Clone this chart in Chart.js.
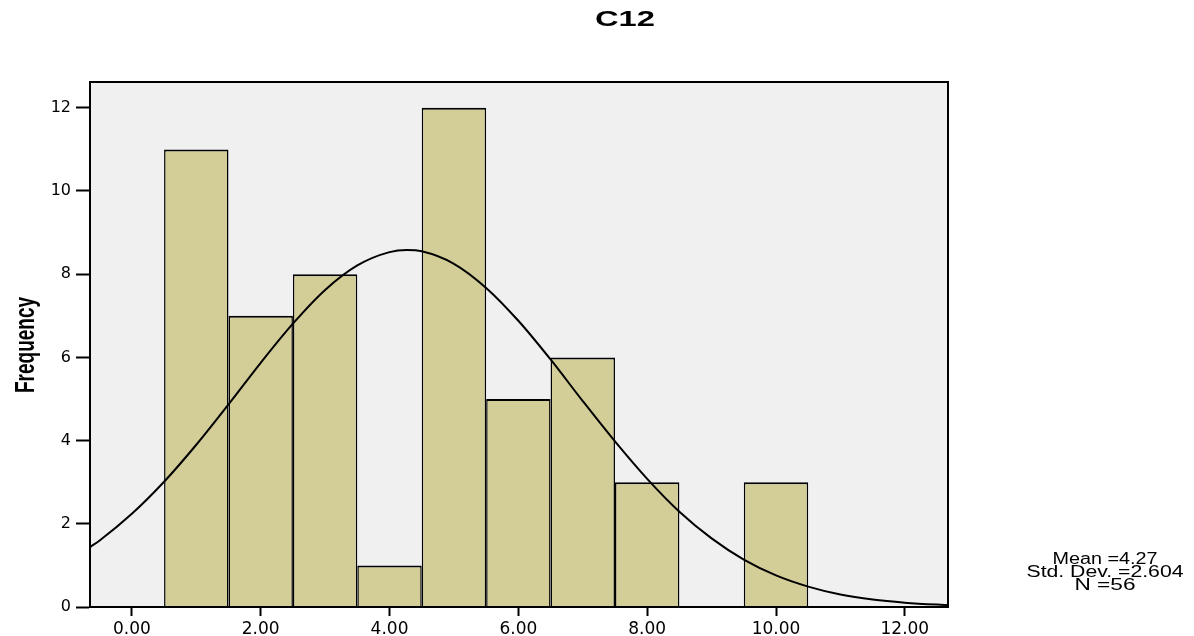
<!DOCTYPE html>
<html>
<head>
<meta charset="utf-8">
<script src="https://cdn.jsdelivr.net/npm/chart.js@4.4.0/dist/chart.umd.min.js"></script>
<style>
  html, body { margin: 0; padding: 0; background: #fff; }
  #wrap { width: 1194px; height: 636px; }
</style>
</head>
<body>
<div id="wrap"><canvas id="mainChart" width="1194" height="636"></canvas></div>
<script>
// histogram bins (centre of each bin) and counts
const binCenters = [1, 2, 3, 4, 5, 6, 7, 8, 9, 10];
const frequencies = [11, 7, 8, 1, 12, 5, 6, 3, 0, 3];

// normal curve
const curveX = [-0.65, -0.5, 0, 0.5, 1, 1.5, 2, 2.5, 3, 3.5, 4, 4.27, 4.5, 5, 5.5, 6, 6.5, 7, 7.5, 8, 8.5, 9, 9.5, 10, 10.5, 11, 11.5, 12, 12.5, 12.67];
const curveY = [1.44, 1.60, 2.24, 3.01, 3.90, 4.87, 5.87, 6.81, 7.62, 8.21, 8.53, 8.58, 8.55, 8.25, 7.67, 6.88, 5.95, 4.95, 3.98, 3.08, 2.29, 1.65, 1.14, 0.76, 0.49, 0.30, 0.18, 0.105, 0.058, 0.047];

const xRange = [-0.65, 12.67];
const yRange = [0, 12.62];
const tickStep = 2;

const titleText = 'C12';
const yTitle = 'Frequency';
const statLines = ['Mean =4.27', 'Std. Dev. =2.604', 'N =56'];

function drawStretched(ctx, text, x, y, font, targetWidth, angle) {
  ctx.save();
  ctx.font = font;
  const w = ctx.measureText(text).width;
  ctx.translate(x, y);
  if (angle) ctx.rotate(angle);
  ctx.scale(targetWidth / w, 1);
  ctx.textAlign = 'center';
  ctx.textBaseline = 'middle';
  ctx.fillStyle = '#000';
  ctx.fillText(text, 0, 0);
  ctx.restore();
}

const framePlugin = {
  id: 'frame',
  beforeDraw(chart) {
    const { ctx, chartArea: a } = chart;
    ctx.save();
    ctx.fillStyle = '#fff';
    ctx.fillRect(0, 0, chart.width, chart.height);
    ctx.fillStyle = '#f0f0f0';
    ctx.fillRect(a.left, a.top, a.right - a.left, a.bottom - a.top);
    ctx.restore();
  },
  afterDatasetsDraw(chart) {
    const { ctx, chartArea: a } = chart;
    ctx.save();
    ctx.strokeStyle = '#000';
    ctx.lineWidth = 2;
    ctx.strokeRect(a.left, a.top, a.right - a.left, a.bottom - a.top);
    ctx.restore();
  },
  afterDraw(chart) {
    const ctx = chart.ctx;
    drawStretched(ctx, titleText, 625, 20, 'bold 22px "Liberation Sans"', 60);
    drawStretched(ctx, yTitle, 26, 345, 'bold 28px "Liberation Sans"', 96, -Math.PI / 2);
    const statY = [560, 573, 586];
    const statW = [105, 157, 61];
    statLines.forEach((s, i) => drawStretched(ctx, s, 1105, statY[i], '16px "Liberation Sans"', statW[i]));
  }
};

const ctx = document.getElementById('mainChart').getContext('2d');

new Chart(ctx, {
  type: 'bar',
  data: {
    datasets: [
      {
        type: 'line',
        order: 1,
        data: curveX.map((x, i) => ({ x, y: curveY[i] })),
        borderColor: '#000',
        borderWidth: 2,
        pointRadius: 0,
        fill: false,
        cubicInterpolationMode: 'monotone'
      },
      {
        type: 'bar',
        order: 2,
        data: binCenters.map((x, i) => ({ x, y: frequencies[i] || null })),
        backgroundColor: '#d3ce98',
        borderColor: '#000',
        borderWidth: { top: 2, left: 1.5, right: 1.5, bottom: 0 },
        borderSkipped: false,
        barPercentage: 1,
        categoryPercentage: 1,
        inflateAmount: 0
      }
    ]
  },
  options: {
    responsive: false,
    animation: false,
    devicePixelRatio: 1,
    layout: { padding: { top: 82, right: 246, bottom: 0, left: 0 } },
    plugins: {
      legend: { display: false },
      tooltip: { enabled: false },
      title: { display: false }
    },
    scales: {
      x: {
        type: 'linear',
        min: xRange[0],
        max: xRange[1],
        offset: false,
        afterFit: s => { s.height = 29; },
        grid: { display: true, drawOnChartArea: false, drawTicks: true, tickLength: 9, tickColor: '#000', tickWidth: 2, offset: false },
        border: { display: true, color: '#000', width: 2 },
        ticks: {
          stepSize: tickStep,
          includeBounds: false,
          autoSkip: false,
          maxRotation: 0,
          padding: 3,
          color: '#000',
          font: { family: 'DejaVu Sans', size: 17 },
          callback: v => v.toFixed(2)
        }
      },
      y: {
        type: 'linear',
        min: yRange[0],
        max: yRange[1],
        afterFit: s => { s.width = 90; },
        grid: { display: true, drawOnChartArea: false, drawTicks: true, tickLength: 14, tickColor: '#000', tickWidth: 2 },
        border: { display: true, color: '#000', width: 2 },
        ticks: {
          stepSize: tickStep,
          includeBounds: false,
          padding: 5,
          color: '#000',
          font: { family: 'DejaVu Sans', size: 16 }
        }
      }
    }
  },
  plugins: [framePlugin]
});
</script>
</body>
</html>
